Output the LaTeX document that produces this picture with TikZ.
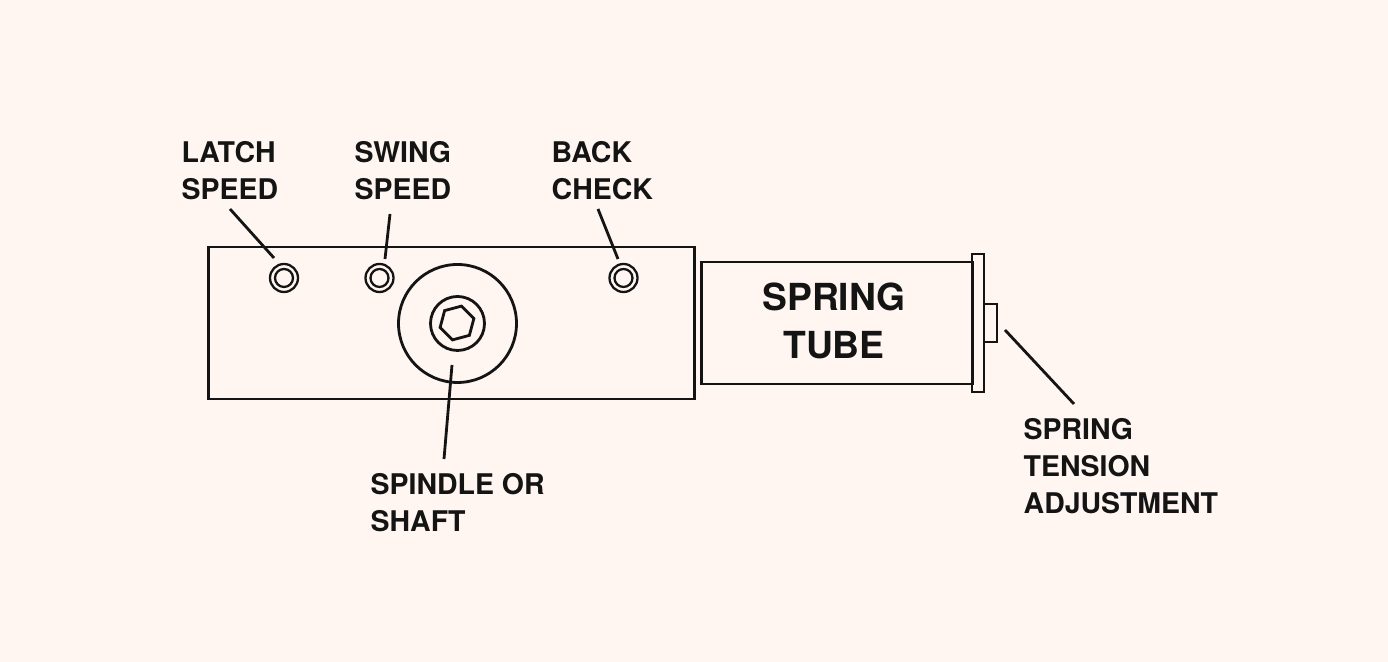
\documentclass[tikz,border=0pt]{standalone}
\usepackage{fontspec}
\setmainfont{TeX Gyre Heros}
\usetikzlibrary{shapes.geometric}
\definecolor{paper}{HTML}{FFF6F1}
\definecolor{ink}{HTML}{141414}
\tikzset{
  part/.style={draw=ink,line width=0.8pt,inner sep=0pt,outer sep=0pt},
  screw/.style={draw=ink,line width=0.65pt,circle,inner sep=0pt,outer sep=0pt},
  leader/.style={draw=ink,line width=0.8pt},
  callout/.style={text=ink,font=\fontsize{8.1pt}{10.5pt}\selectfont\bfseries,align=left,anchor=north west,inner sep=0pt},
  bigtext/.style={text=ink,font=\fontsize{10.6pt}{13.7pt}\selectfont\bfseries,align=center}
}
\begin{document}
\begin{tikzpicture}
\useasboundingbox (0,0) rectangle (13.88,6.62);
\fill [paper] (0,0) rectangle (13.88,6.62);
% door closer body
\node[part,minimum width=4.86cm,minimum height=1.52cm] (body) at (4.515,3.39) {};
\node[part,minimum width=2.71cm,minimum height=1.22cm] (tube) at (8.37,3.39) {};
\node[part,minimum width=0.12cm,minimum height=1.38cm] (flange) at (9.78,3.39) {};
\node[part,minimum width=0.13cm,minimum height=0.38cm] (knob) at (9.905,3.39) {};
\node[bigtext] (tubetext) at (8.34,3.41) {SPRING\\TUBE};
% adjusting screws
\foreach \name/\x in {latch/2.84,swing/3.795,back/6.235} {
  \node[screw,minimum size=0.28cm] (\name) at (\x,3.84) {};
  \node[screw,minimum size=0.18cm] at (\name) {};
}
% spindle
\node[part,circle,minimum size=1.18cm] (hub) at (4.575,3.385) {};
\node[part,circle,minimum size=0.54cm] (spindle) at (hub) {};
\node[part,regular polygon,regular polygon sides=6,minimum size=0.35cm,rotate=15] (hex) at (4.57,3.39) {};
% labels
\node[callout] (latchtext) at (1.81,5.215) {LATCH\\SPEED};
\node[callout] (swingtext) at (3.54,5.215) {SWING\\SPEED};
\node[callout] (backtext) at (5.51,5.215) {BACK\\CHECK};
\node[callout] (shafttext) at (3.70,1.895) {SPINDLE OR\\SHAFT};
\node[callout] (adjtext) at (10.23,2.445) {SPRING\\TENSION\\ADJUSTMENT};
% leader ends
\coordinate (latchtop) at (2.30,4.53);
\coordinate (latchend) at (2.74,4.04);
\coordinate (swingtop) at (3.90,4.48);
\coordinate (swingend) at (3.85,4.03);
\coordinate (backtop) at (5.98,4.53);
\coordinate (backend) at (6.18,4.03);
\coordinate (hubtop) at (4.52,2.97);
\coordinate (hubend) at (4.44,2.03);
\coordinate (adjtop) at (10.05,3.32);
\coordinate (adjend) at (10.74,2.58);
\draw[leader] (latchtop) -- (latchend);
\draw[leader] (swingtop) -- (swingend);
\draw[leader] (backtop) -- (backend);
\draw[leader] (hubtop) -- (hubend);
\draw[leader] (adjtop) -- (adjend);
\end{tikzpicture}
\end{document}
